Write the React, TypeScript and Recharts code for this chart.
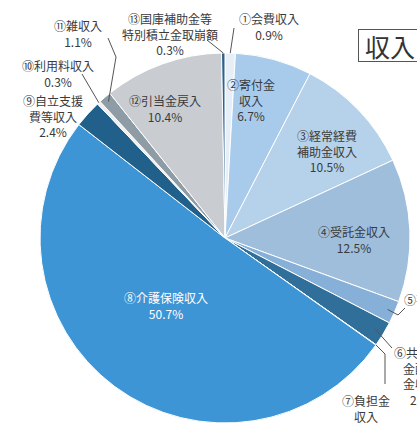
import { PieChart, Pie, Cell } from "recharts";

// 収入内訳 (%)
const names = [
  "会費収入",
  "寄付金収入",
  "経常経費補助金収入",
  "受託金収入",
  "事業収入",
  "共同募金配分金収入",
  "負担金収入",
  "介護保険収入",
  "自立支援費等収入",
  "利用料収入",
  "雑収入",
  "引当金戻入",
  "国庫補助金等特別積立金取崩額",
];
const shares = [0.9, 6.7, 10.5, 12.5, 2.0, 2.2, 0.04, 50.7, 2.4, 0.3, 1.1, 10.4, 0.3];

// label text lines (last line gets the percentage appended)
const labelLines = [
  ["①会費収入"],
  ["②寄付金", "収入"],
  ["③経常経費", "補助金収入"],
  ["④受託金収入"],
  ["⑤事業収入"],
  ["⑥共同募", "金配分", "金収入"],
  ["⑦負担金", "収入"],
  ["⑧介護保険収入"],
  ["⑨自立支援", "費等収入"],
  ["⑩利用料収入"],
  ["⑪雑収入"],
  ["⑫引当金戻入"],
  ["⑬国庫補助金等", "特別積立金取崩額"],
];

const COLORS = [
  "#e6eff7", "#a9cbeb", "#b6d1ea", "#9fbedb", "#86b0d7", "#2f6f9a", "#ffffff",
  "#3d95d5", "#20608a", "#eeeeee", "#8e9ca6", "#c9cdd1", "#2e618b",
];

// layout: label anchor x, first baseline y, per-line x shifts, text color, leader elbow points
const LAYOUT: {
  x: number;
  y: number;
  anchor?: "start" | "middle";
  dx?: number[];
  fill?: string;
  leader?: number[][];
  r?: number;
}[] = [
  { x: 269, y: 24, leader: [[234, 28]], r: 1 },
  { x: 251, y: 90 },
  { x: 327, y: 141 },
  { x: 354, y: 237 },
  { x: 404, y: 305, anchor: "start", dx: [0, 30], leader: [[398, 315], [405, 308]], r: 0.96 },
  { x: 394, y: 358, anchor: "start", dx: [0, 9, 9, 16], leader: [[392, 348]], r: 0.95 },
  { x: 366, y: 406, leader: [[385, 354], [385, 384]], r: 1 },
  { x: 166, y: 303, fill: "#ffffff" },
  { x: 53, y: 106 },
  { x: 58, y: 71, leader: [[82, 74]], r: 1 },
  { x: 78, y: 31, leader: [[116, 57], [108, 38]], r: 0.97 },
  { x: 165, y: 106 },
  { x: 170, y: 24, leader: [[207, 40]], r: 1 },
];

const RAD = Math.PI / 180;
const FONT = "'Noto Sans CJK JP', 'Noto Sans', sans-serif";

const data = names.map((name, i) => ({ name, value: shares[i] }));

function renderLabel(props: any) {
  const { index, cx, cy, midAngle, outerRadius } = props;
  const l = LAYOUT[index];
  const lines = [...labelLines[index], `${shares[index].toFixed(1)}%`];
  let path: string | null = null;
  if (l.leader) {
    const r = outerRadius * (l.r ?? 1);
    const sx = cx + r * Math.cos(-midAngle * RAD);
    const sy = cy + r * Math.sin(-midAngle * RAD);
    path = `M${sx},${sy}` + l.leader.map((p) => ` L${p[0]},${p[1]}`).join("");
  }
  return (
    <g key={`lbl-${index}`}>
      {path && <path d={path} stroke="#555" strokeWidth={1} fill="none" />}
      {lines.map((t, j) => (
        <text
          key={j}
          x={l.x + (l.dx?.[j] ?? 0)}
          y={l.y + j * 15.5}
          textAnchor={l.anchor ?? "middle"}
          fill={l.fill ?? "#3a3a3a"}
          fontSize={12}
          fontFamily={FONT}
        >
          {t}
        </text>
      ))}
    </g>
  );
}

export default function App() {
  return (
    <div
      style={{
        position: "absolute",
        left: 0,
        top: 0,
        width: 417,
        height: 426,
        overflow: "hidden",
        background: "#fff",
      }}
    >
      <PieChart width={417} height={426} margin={{ top: 0, right: 0, bottom: 0, left: 0 }}>
        <Pie
          data={data}
          dataKey="value"
          nameKey="name"
          cx={225}
          cy={238}
          outerRadius={185}
          startAngle={90}
          endAngle={-270}
          stroke="#ffffff"
          strokeWidth={1}
          label={renderLabel}
          labelLine={false}
          isAnimationActive={false}
        >
          {data.map((d, i) => (
            <Cell key={d.name} fill={COLORS[i]} />
          ))}
        </Pie>
      </PieChart>
      <div
        style={{
          position: "absolute",
          left: 358,
          top: 29,
          width: 80,
          height: 33,
          border: "1px solid #555",
          fontFamily: FONT,
          fontSize: 25,
          lineHeight: "33px",
          paddingLeft: 6,
          color: "#333",
          boxSizing: "border-box",
        }}
      >
        収入
      </div>
    </div>
  );
}
